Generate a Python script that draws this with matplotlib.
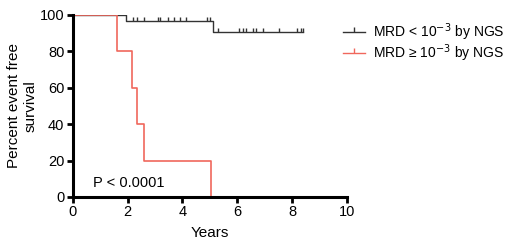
import matplotlib
matplotlib.use("Agg")
import matplotlib.pyplot as plt
from matplotlib.path import Path
from matplotlib.lines import Line2D

plt.rcParams['font.family'] = ['Liberation Sans', 'DejaVu Sans']

# Kaplan-Meier step data (years, percent)
low_t = [0, 1.93, 5.11, 8.39]
low_s = [100, 96.7, 90.6, 90.6]
low_censor = [2.19, 2.34, 2.59, 3.10, 3.18, 3.47, 3.69, 3.91, 4.12, 4.89, 5.0,
              5.29, 6.06, 6.20, 6.31, 6.57, 6.68, 6.93, 7.52, 8.18, 8.32, 8.39]

high_t = [0, 1.6, 2.17, 2.35, 2.59, 5.06]
high_s = [100, 80, 60, 40, 20, 0]

labels = ["MRD < 10$^{-3}$ by NGS", "MRD \u2265 10$^{-3}$ by NGS"]
colors = ["#333333", "#f0675c"]

tick_marker = Path([(0, 0), (0, 1)])


def step_value(t, s, x):
    v = s[0]
    for ti, si in zip(t, s):
        if x >= ti:
            v = si
    return v


fig = plt.figure(figsize=(5.2, 2.5), dpi=100)
ax = fig.add_axes([0.14, 0.212, 0.527, 0.728])

ax.step(low_t, low_s, where='post', color=colors[0], lw=1.0)
ax.scatter(low_censor, [step_value(low_t, low_s, x) for x in low_censor],
           marker=tick_marker, s=30, color=colors[0], linewidths=1.0)
ax.step(high_t, high_s, where='post', color=colors[1], lw=1.2)

ax.text(0.75, 7.5, "P < 0.0001", fontsize=10.5, va='center')

ax.set_xlim(0, 10)
ax.set_ylim(0, 100)
ax.set_xticks([0, 2, 4, 6, 8, 10])
ax.set_yticks([0, 20, 40, 60, 80, 100])
ax.spines['top'].set_visible(False)
ax.spines['right'].set_visible(False)
ax.spines['left'].set_linewidth(2.2)
ax.spines['bottom'].set_linewidth(2.2)
ax.tick_params(width=2, length=4, labelsize=10.5, pad=2)
ax.set_xlabel("Years", fontsize=11, labelpad=5)
ax.set_ylabel("Percent event free\nsurvival", fontsize=11, labelpad=2)

handles = [Line2D([0], [0], color=c, lw=1.0, marker=tick_marker, markersize=7,
                  markeredgewidth=1.0) for c in colors]
fig.legend(handles, labels, loc='upper left', bbox_to_anchor=(0.64, 0.955),
           frameon=False, fontsize=10, handlelength=1.6, handletextpad=0.6,
           labelspacing=0.0, borderaxespad=0.3)

plt.savefig("out.png", dpi=100)
